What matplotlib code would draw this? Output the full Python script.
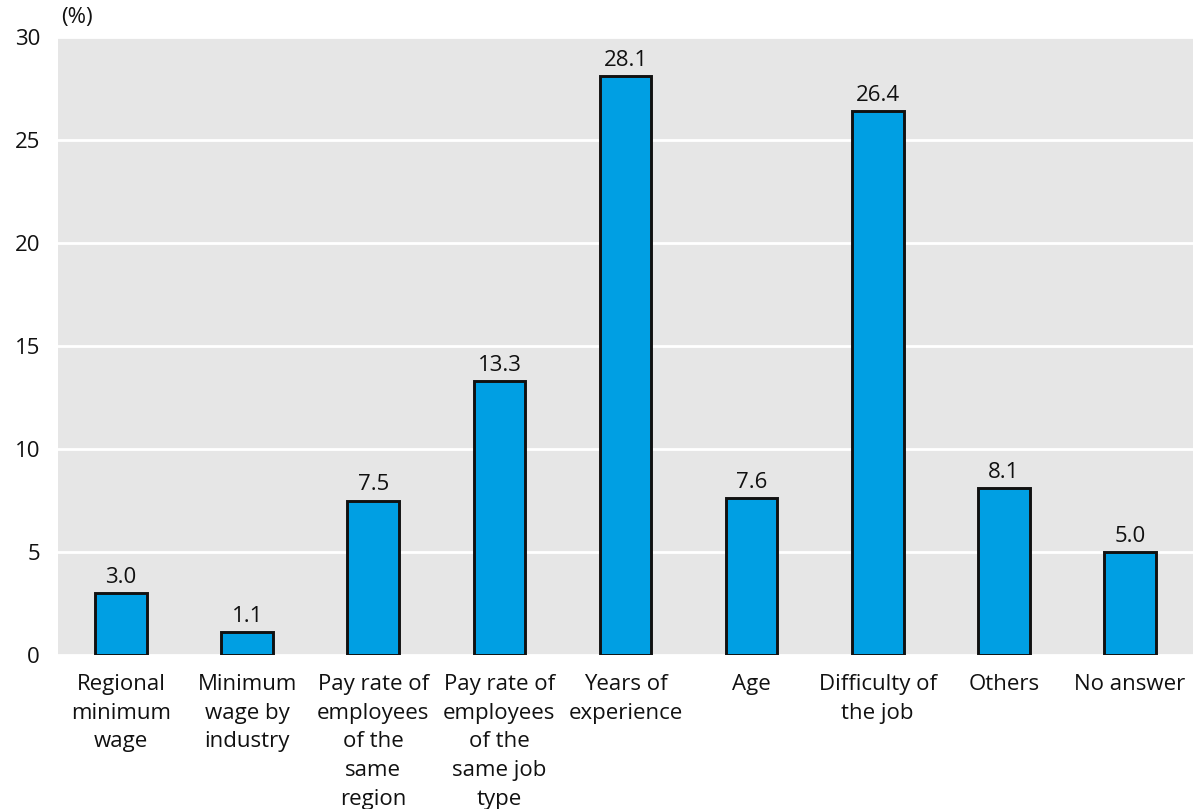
import matplotlib
matplotlib.use("Agg")
import matplotlib.pyplot as plt

categories = [
    "Regional\nminimum\nwage",
    "Minimum\nwage by\nindustry",
    "Pay rate of\nemployees\nof the\nsame\nregion",
    "Pay rate of\nemployees\nof the\nsame job\ntype",
    "Years of\nexperience",
    "Age",
    "Difficulty of\nthe job",
    "Others",
    "No answer",
]
values = [3.0, 1.1, 7.5, 13.3, 28.1, 7.6, 26.4, 8.1, 5.0]
yticks = [0, 5, 10, 15, 20, 25, 30]

plt.rcParams["font.family"] = ["Open Sans", "DejaVu Sans"]
FS = 16

fig = plt.figure(figsize=(11.93, 8.09), dpi=100)
ax = fig.add_axes([58 / 1193, 1 - 655 / 809, (1193 - 58) / 1193, (655 - 37) / 809])
ax.set_facecolor("#e6e6e6")

x = range(len(categories))
ax.bar(x, values, width=0.41, color="#009fe3", edgecolor="#111111",
       linewidth=2.1, zorder=3)
for xi, v in zip(x, values):
    ax.text(xi, v + 0.25, f"{v:.1f}", ha="center", va="bottom", fontsize=FS,
            color="#111111", zorder=4)

ax.set_xlim(-0.5, len(categories) - 0.5)
ax.set_ylim(0, 30)
ax.set_yticks(yticks)
ax.set_yticklabels([str(t) for t in yticks], fontsize=FS)
ax.set_xticks(list(x))
ax.set_xticklabels(categories, fontsize=FS, linespacing=1.47)
ax.tick_params(axis="both", length=0, colors="#111111")
ax.tick_params(axis="x", pad=14)
ax.tick_params(axis="y", pad=13)
for s in ax.spines.values():
    s.set_visible(False)
ax.yaxis.grid(True, color="white", linewidth=2, zorder=1)
ax.set_axisbelow(True)

fig.text(61 / 1193, 1 - 18 / 809, "(%)", fontsize=FS, ha="left", va="center",
         color="#111111")

fig.savefig("out.png", dpi=100)
